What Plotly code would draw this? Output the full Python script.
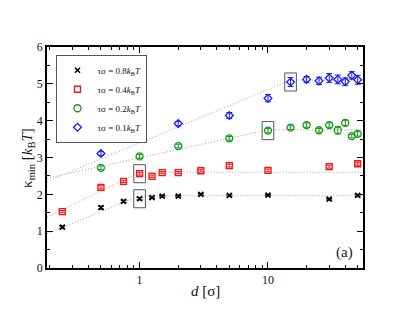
import math
import plotly.graph_objects as go

# ---------------- data ----------------
series_names = [
    "τσ = 0.8<i>k</i><sub>B</sub><i>T</i>",
    "τσ = 0.4<i>k</i><sub>B</sub><i>T</i>",
    "τσ = 0.2<i>k</i><sub>B</sub><i>T</i>",
    "τσ = 0.1<i>k</i><sub>B</sub><i>T</i>",
]

d_08 = [0.25, 0.5, 0.75, 1.0, 1.25, 1.5, 2, 3, 5, 10, 30, 50]
k_08 = [1.11, 1.64, 1.81, 1.88, 1.91, 1.95, 1.95, 2.00, 1.97, 1.98, 1.87, 1.97]
e_08 = [0.03, 0.04, 0.03, 0.03, 0.02, 0.02, 0.02, 0.02, 0.02, 0.02, 0.02, 0.02]

d_04 = [0.25, 0.5, 0.75, 1.0, 1.25, 1.5, 2, 3, 5, 10, 30, 50]
k_04 = [1.53, 2.19, 2.35, 2.56, 2.49, 2.59, 2.59, 2.64, 2.78, 2.65, 2.75, 2.83]
e_04 = [0.03, 0.04, 0.03, 0.04, 0.03, 0.03, 0.03, 0.03, 0.04, 0.04, 0.04, 0.04]

d_02 = [0.5, 1, 2, 5, 10, 15, 20, 25, 30, 35, 40, 45, 50]
k_02 = [2.72, 3.03, 3.31, 3.52, 3.73, 3.81, 3.88, 3.74, 3.88, 3.74, 3.94, 3.58, 3.64]
e_02 = [0.05, 0.05, 0.05, 0.05, 0.06, 0.05, 0.06, 0.05, 0.06, 0.10, 0.07, 0.05, 0.06]

d_01 = [0.5, 1, 2, 5, 10, 15, 20, 25, 30, 35, 40, 45, 50]
k_01 = [3.11, 3.67, 3.92, 4.14, 4.61, 5.05, 5.12, 5.08, 5.16, 5.12, 5.06, 5.23, 5.11]
e_01 = [0.05, 0.07, 0.06, 0.08, 0.10, 0.12, 0.08, 0.10, 0.12, 0.12, 0.10, 0.10, 0.12]

# fitted guide lines: value at left edge, knee position, plateau value
fit_left = [0.93, 1.38, 2.44, 2.35]
fit_knee = [1.0, 1.0, 10.0, 15.0]
fit_plateau = [1.96, 2.60, 3.75, 5.10]

# highlighted (boxed) points: knee point of each series
box_d = [1.0, 1.0, 10.0, 15.0]
box_k = [1.88, 2.56, 3.73, 5.05]

x_min, x_max = 0.19, 55.0
y_min, y_max = 0.0, 6.0

x_title = "<i>d</i> [σ]"
y_title = "κ<sub>min</sub> [<i>k</i><sub>B</sub><i>T</i>]"

colors = ["#000000", "#ff1010", "#119911", "#1a1aff"]
symbols = ["x-thin-open", "square-open", "circle-open", "diamond-open"]
sizes = [5, 6, 7, 6]

all_d = [d_08, d_04, d_02, d_01]
all_k = [k_08, k_04, k_02, k_01]
all_e = [e_08, e_04, e_02, e_01]

FONT = "Liberation Serif"

fig = go.Figure()

# guide lines
for i in range(4):
    fig.add_trace(go.Scatter(
        x=[x_min, fit_knee[i], x_max],
        y=[fit_left[i], fit_plateau[i], fit_plateau[i]],
        mode="lines", line=dict(color="#a0a0a0", width=1, dash="1px,2px"),
        showlegend=False, hoverinfo="skip"))

# data series
for i in range(4):
    fig.add_trace(go.Scatter(
        x=all_d[i], y=all_k[i], mode="markers", name=series_names[i],
        marker=dict(symbol=symbols[i], size=sizes[i], color=colors[i],
                    line=dict(width=1.6 if i == 0 else 1.3, color=colors[i])),
        error_y=dict(type="data", array=all_e[i], visible=True,
                     color=colors[i], thickness=1, width=3)))

# boxes around highlighted points (data coordinates)
box_fx = 1.11   # multiplicative half-width on the log axis
box_hy = 0.245  # half-height in kBT
for i in range(4):
    fig.add_shape(type="rect", xref="x", yref="y",
                  x0=box_d[i] / box_fx, x1=box_d[i] * box_fx,
                  y0=box_k[i] - box_hy, y1=box_k[i] + box_hy,
                  line=dict(color="#555555", width=1))

fig.add_annotation(text="(a)", xref="paper", yref="paper", x=0.943, y=0.07,
                   xanchor="center", yanchor="middle",
                   showarrow=False, font=dict(family=FONT, size=15, color="#222"))

# axis titles placed precisely as annotations
fig.add_annotation(text=x_title, xref="paper", yref="paper", x=0.5, y=-0.104,
                   xanchor="center", yanchor="middle", showarrow=False,
                   font=dict(family=FONT, size=15, color="#111"))
fig.add_annotation(text=y_title, xref="paper", yref="paper", x=-0.062, y=0.5,
                   xanchor="center", yanchor="middle", showarrow=False,
                   textangle=-90, font=dict(family=FONT, size=15, color="#111"))

minor_x = [v * m for m in (0.1, 1, 10) for v in range(2, 10)]

# the page body adds an 8px offset; the figure is sized to compensate
fig.update_layout(
    width=401, height=308,
    margin=dict(l=39, r=46, t=39, b=48),
    plot_bgcolor="white", paper_bgcolor="white",
    font=dict(family=FONT, size=12, color="#111"),
    showlegend=True,
    legend=dict(x=0.03, y=0.965, xanchor="left", yanchor="top",
                bordercolor="#555555", borderwidth=1, bgcolor="white",
                font=dict(family=FONT, size=9), tracegroupgap=0,
                itemwidth=30),
    xaxis=dict(type="log", range=[math.log10(x_min), math.log10(x_max)],
               automargin=False,
               tickmode="array", tickvals=[1, 10], ticktext=["1", "10"],
               ticks="inside", ticklen=6, tickwidth=1, tickcolor="black",
               minor=dict(tickmode="array", tickvals=minor_x, ticks="inside",
                          ticklen=3, tickcolor="black"),
               showline=True, linecolor="black", linewidth=1.5, mirror="allticks",
               showgrid=False, zeroline=False),
    yaxis=dict(range=[y_min, y_max], dtick=1, tick0=0, automargin=False,
               ticks="inside", ticklen=6, tickwidth=1, tickcolor="black",
               minor=dict(dtick=0.5, ticks="inside", ticklen=3, tickcolor="black"),
               showline=True, linecolor="black", linewidth=1.5, mirror="allticks",
               showgrid=False, zeroline=False),
)

fig.write_html("out.html")
